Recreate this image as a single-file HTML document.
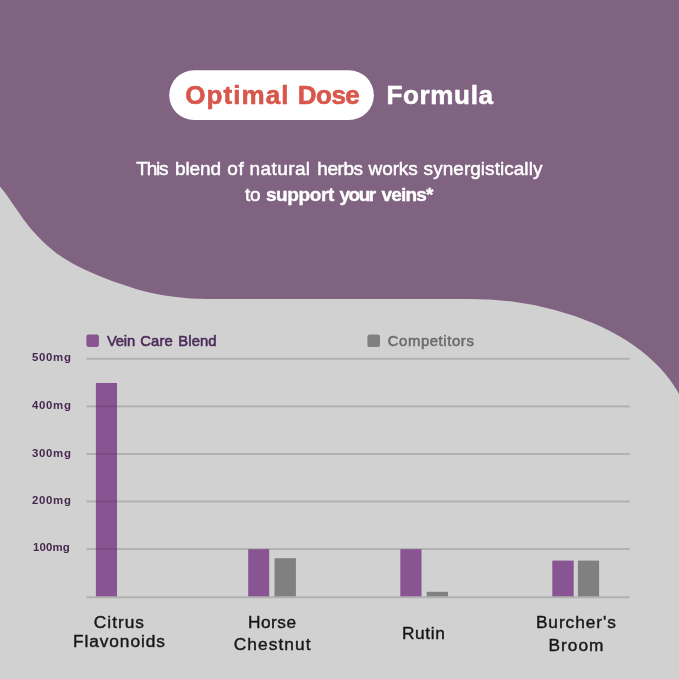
<!DOCTYPE html>
<html><head><meta charset="utf-8"><title>Optimal Dose Formula</title>
<style>
html,body{margin:0;padding:0;width:679px;height:679px;overflow:hidden;background:#7f6381;font-family:"Liberation Sans",sans-serif;}
</style></head><body>
<svg width="679" height="679" viewBox="0 0 679 679" style="display:block;position:absolute;left:0;top:0;will-change:transform">
<rect width="679" height="679" fill="#7f6381"/>
<path d="M-12.0,173.0 C-10.0,175.3 -3.3,182.6 0.0,186.6 C3.3,190.6 5.3,193.2 8.0,196.9 C10.7,200.6 13.3,204.7 16.0,208.5 C18.7,212.3 21.3,216.3 24.0,219.9 C26.7,223.5 29.0,226.5 32.0,230.0 C35.0,233.5 38.3,237.2 42.0,240.8 C45.7,244.4 49.7,248.0 54.0,251.3 C58.3,254.6 63.0,257.7 68.0,260.7 C73.0,263.7 78.7,266.6 84.0,269.2 C89.3,271.8 94.3,273.9 100.0,276.2 C105.7,278.5 112.0,281.0 118.0,283.1 C124.0,285.2 130.0,287.3 136.0,289.0 C142.0,290.7 148.0,292.2 154.0,293.5 C160.0,294.8 166.0,295.8 172.0,296.6 C178.0,297.4 184.0,298.0 190.0,298.4 C196.0,298.8 202.0,298.8 208.0,298.9 C214.0,299.0 223.0,298.9 226.0,298.9 L468.7,298.9 A222.6,141.6 0 0 1 691.3,440.5 L691.3,700 L-20,700 Z" fill="#d1d1d1"/>
<rect x="169.2" y="70.3" width="204.7" height="49.7" rx="24.85" fill="#ffffff"/>
<rect x="86.5" y="357.85" width="543.2" height="1.9" fill="#000" fill-opacity="0.155"/>
<rect x="86.5" y="405.45" width="543.2" height="1.9" fill="#000" fill-opacity="0.155"/>
<rect x="86.5" y="453.05" width="543.2" height="1.9" fill="#000" fill-opacity="0.155"/>
<rect x="86.5" y="500.55" width="543.2" height="1.9" fill="#000" fill-opacity="0.155"/>
<rect x="86.5" y="548.05" width="543.2" height="1.9" fill="#000" fill-opacity="0.155"/>
<rect x="86.5" y="596.35" width="543.2" height="1.9" fill="#000" fill-opacity="0.155"/>
<rect x="95.9" y="383.0" width="21.1" height="213.35" fill="#885491"/>
<rect x="95.9" y="405.45" width="21.1" height="1.90" fill="#000" fill-opacity="0.09"/>
<rect x="95.9" y="453.05" width="21.1" height="1.90" fill="#000" fill-opacity="0.09"/>
<rect x="95.9" y="500.55" width="21.1" height="1.90" fill="#000" fill-opacity="0.09"/>
<rect x="95.9" y="548.05" width="21.1" height="1.90" fill="#000" fill-opacity="0.09"/>
<rect x="248.2" y="549.2" width="21.0" height="47.15" fill="#885491"/>
<rect x="274.5" y="558.2" width="21.4" height="38.15" fill="#808080"/>
<rect x="400.3" y="549.2" width="21.2" height="47.15" fill="#885491"/>
<rect x="426.7" y="591.8" width="21.3" height="4.55" fill="#808080"/>
<rect x="552.3" y="560.6" width="21.4" height="35.75" fill="#885491"/>
<rect x="577.9" y="560.6" width="21.2" height="35.75" fill="#808080"/>
<rect x="86.4" y="334.5" width="12.5" height="12.5" rx="2.2" fill="#885491"/>
<rect x="367.4" y="334.5" width="12.6" height="12.6" rx="2.2" fill="#808080"/>
<g font-family="'Liberation Sans', sans-serif"><text x="185.3" y="104.0" font-size="26" font-weight="700" fill="#d8564a" textLength="103.1" lengthAdjust="spacing" stroke="#d8564a" stroke-width="0.6" stroke-linejoin="round">Optimal</text>
<text x="297.8" y="104.0" font-size="26" font-weight="700" fill="#d8564a" textLength="62.0" lengthAdjust="spacing" stroke="#d8564a" stroke-width="0.6" stroke-linejoin="round">Dose</text>
<text x="386.5" y="104.0" font-size="26" font-weight="700" fill="#ffffff" textLength="106.5" lengthAdjust="spacing" stroke="#ffffff" stroke-width="0.6" stroke-linejoin="round">Formula</text>
<text x="136.2" y="175.0" font-size="19" font-weight="400" fill="#ffffff" textLength="32.4" lengthAdjust="spacing" stroke="#ffffff" stroke-width="0.5" stroke-linejoin="round">This</text>
<text x="174.9" y="175.0" font-size="19" font-weight="400" fill="#ffffff" textLength="46.2" lengthAdjust="spacing" stroke="#ffffff" stroke-width="0.5" stroke-linejoin="round">blend</text>
<text x="227.3" y="175.0" font-size="19" font-weight="400" fill="#ffffff" textLength="16.5" lengthAdjust="spacing" stroke="#ffffff" stroke-width="0.5" stroke-linejoin="round">of</text>
<text x="249.5" y="175.0" font-size="19" font-weight="400" fill="#ffffff" textLength="60.6" lengthAdjust="spacing" stroke="#ffffff" stroke-width="0.5" stroke-linejoin="round">natural</text>
<text x="317.3" y="175.0" font-size="19" font-weight="400" fill="#ffffff" textLength="45.8" lengthAdjust="spacing" stroke="#ffffff" stroke-width="0.5" stroke-linejoin="round">herbs</text>
<text x="368.6" y="175.0" font-size="19" font-weight="400" fill="#ffffff" textLength="49.1" lengthAdjust="spacing" stroke="#ffffff" stroke-width="0.5" stroke-linejoin="round">works</text>
<text x="423.6" y="175.0" font-size="19" font-weight="400" fill="#ffffff" textLength="118.8" lengthAdjust="spacing" stroke="#ffffff" stroke-width="0.5" stroke-linejoin="round">synergistically</text>
<text x="245.0" y="201.0" font-size="19" font-weight="400" fill="#ffffff" textLength="15.6" lengthAdjust="spacing" stroke="#ffffff" stroke-width="0.5" stroke-linejoin="round">to</text>
<text x="265.9" y="201.0" font-size="19" font-weight="700" fill="#ffffff" textLength="68.4" lengthAdjust="spacing" stroke="#ffffff" stroke-width="0.4" stroke-linejoin="round">support</text>
<text x="339.6" y="201.0" font-size="19" font-weight="700" fill="#ffffff" textLength="36.5" lengthAdjust="spacing" stroke="#ffffff" stroke-width="0.4" stroke-linejoin="round">your</text>
<text x="381.4" y="201.0" font-size="19" font-weight="700" fill="#ffffff" textLength="52.1" lengthAdjust="spacing" stroke="#ffffff" stroke-width="0.4" stroke-linejoin="round">veins*</text>
<text x="106.9" y="346.1" font-size="14.8" font-weight="400" fill="#4d2c5c" textLength="28.3" lengthAdjust="spacing" stroke="#4d2c5c" stroke-width="0.6" stroke-linejoin="round">Vein</text>
<text x="140.3" y="346.1" font-size="14.8" font-weight="400" fill="#4d2c5c" textLength="32.5" lengthAdjust="spacing" stroke="#4d2c5c" stroke-width="0.6" stroke-linejoin="round">Care</text>
<text x="178.3" y="346.1" font-size="14.8" font-weight="400" fill="#4d2c5c" textLength="38.3" lengthAdjust="spacing" stroke="#4d2c5c" stroke-width="0.6" stroke-linejoin="round">Blend</text>
<text x="387.8" y="346.3" font-size="14.8" font-weight="400" fill="#6c6c6c" textLength="86.0" lengthAdjust="spacing" stroke="#6c6c6c" stroke-width="0.55" stroke-linejoin="round">Competitors</text>
<text x="32.0" y="361.4" font-size="11.4" font-weight="700" fill="#46294f" textLength="38.9" lengthAdjust="spacing" >500mg</text>
<text x="32.0" y="408.9" font-size="11.4" font-weight="700" fill="#46294f" textLength="38.9" lengthAdjust="spacing" >400mg</text>
<text x="32.0" y="456.7" font-size="11.4" font-weight="700" fill="#46294f" textLength="38.9" lengthAdjust="spacing" >300mg</text>
<text x="32.0" y="503.9" font-size="11.4" font-weight="700" fill="#46294f" textLength="38.9" lengthAdjust="spacing" >200mg</text>
<text x="33.0" y="550.8" font-size="11.4" font-weight="700" fill="#46294f" textLength="36.8" lengthAdjust="spacing" >100mg</text>
<text x="93.8" y="627.9" font-size="17.3" font-weight="400" fill="#161616" textLength="50.2" lengthAdjust="spacing" stroke="#161616" stroke-width="0.4" stroke-linejoin="round">Citrus</text>
<text x="73.1" y="646.9" font-size="17.3" font-weight="400" fill="#161616" textLength="91.7" lengthAdjust="spacing" stroke="#161616" stroke-width="0.4" stroke-linejoin="round">Flavonoids</text>
<text x="248.1" y="627.6" font-size="17.3" font-weight="400" fill="#161616" textLength="47.9" lengthAdjust="spacing" stroke="#161616" stroke-width="0.4" stroke-linejoin="round">Horse</text>
<text x="233.7" y="650.0" font-size="17.3" font-weight="400" fill="#161616" textLength="76.9" lengthAdjust="spacing" stroke="#161616" stroke-width="0.4" stroke-linejoin="round">Chestnut</text>
<text x="402.0" y="638.8" font-size="17.3" font-weight="400" fill="#161616" textLength="42.9" lengthAdjust="spacing" stroke="#161616" stroke-width="0.4" stroke-linejoin="round">Rutin</text>
<text x="535.9" y="627.8" font-size="17.3" font-weight="400" fill="#161616" textLength="79.9" lengthAdjust="spacing" stroke="#161616" stroke-width="0.4" stroke-linejoin="round">Burcher's</text>
<text x="548.6" y="650.6" font-size="17.3" font-weight="400" fill="#161616" textLength="54.9" lengthAdjust="spacing" stroke="#161616" stroke-width="0.4" stroke-linejoin="round">Broom</text></g>
</svg>
</body></html>
